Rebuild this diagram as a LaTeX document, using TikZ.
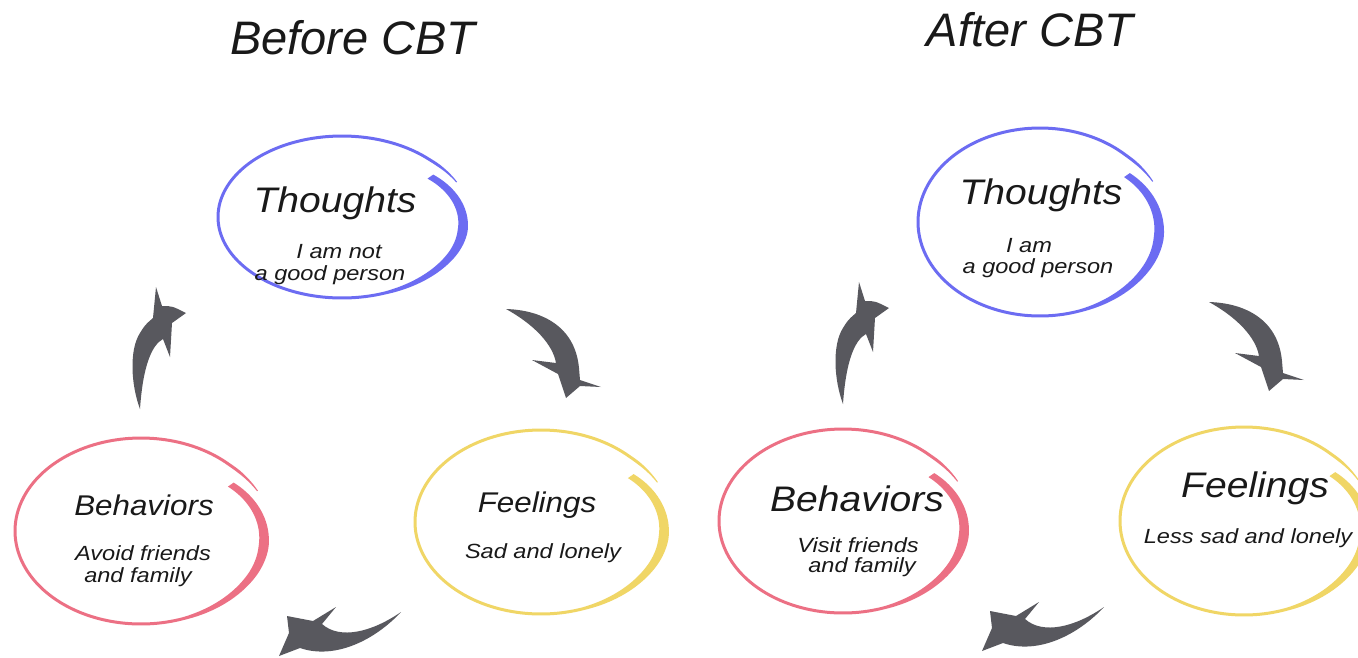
\documentclass[tikz,border=0pt]{standalone}
\usepackage{fontspec}
\setmainfont{Liberation Sans}
\usepackage{graphicx}
\definecolor{cblue}{RGB}{108,108,242}
\definecolor{cpink}{RGB}{236,112,132}
\definecolor{cyel}{RGB}{240,214,102}
\definecolor{cgray}{RGB}{88,88,94}
\definecolor{ctxt}{RGB}{25,25,25}
\newcommand\hsx[1]{\scalebox{1.1}[1]{#1}}
\newcommand\hsy[1]{\scalebox{1.15}[1]{#1}}
% brush-stroke ellipse: cx, cy, rx, ry, colour
\newcommand\brushell[5]{%
  \fill[#5] plot[domain=25:395,samples=180,variable=\u]
    ({#1+(#3*rr(\u)+ww(\u)/2)*cos(\u)},{#2-(#4*rr(\u)+ww(\u)/2)*sin(\u)})
    -- plot[domain=395:25,samples=180,variable=\u]
    ({#1+(#3*rr(\u)-ww(\u)/2)*cos(\u)},{#2-(#4*rr(\u)-ww(\u)/2)*sin(\u)})
    -- cycle;}
\begin{document}
\begin{tikzpicture}[x=1pt,y=-1pt,
  declare function={
    rr(\t)=ifthenelse(\t<45,1+0.02*(45-\t)/20,ifthenelse(\t<330,1,1-0.13*((\t-330)/65)*((\t-330)/65)));
    ww(\t)=ifthenelse(\t<40,1+2*(\t-25)/15,ifthenelse(\t<290,3,ifthenelse(\t<350,3+7*(\t-290)/60,10-3*(\t-350)/45)));
  },
  title/.style={font=\fontsize{47}{52}\selectfont\itshape,text=ctxt,inner sep=0pt,anchor=base},
  headS/.style={font=\fontsize{28.5}{32}\selectfont\itshape,text=ctxt,inner sep=0pt,anchor=base},
  headL/.style={font=\fontsize{35.5}{40}\selectfont\itshape,text=ctxt,inner sep=0pt,anchor=base},
  sub/.style={font=\fontsize{20.5}{24}\selectfont\itshape,text=ctxt,inner sep=0pt,anchor=base},
  arrA/.pic={\fill[cgray] (140,409) .. controls (131,385) and (129,350) .. (140,333)
      .. controls (145,325) .. (153,318) -- (156,287) -- (162,306)
      .. controls (172,306) .. (186,313) -- (172,323) -- (170,357) -- (163,339)
      .. controls (152,345) and (143,365) .. (140,409) -- cycle;},
  arrB/.pic={\fill[cgray] (506,309) .. controls (540,310) and (575,325) .. (579,368)
      -- (580,380) -- (601,387) -- (580,386) -- (566,398) -- (558,374) -- (532,360)
      -- (556,363) .. controls (553,345) and (535,325) .. (506,309) -- cycle;},
  arrC/.pic={\fill[cgray] (401,612) .. controls (375,640) and (335,660) .. (300,648)
      -- (279,656) -- (289,633) -- (287,616) -- (313,621) -- (336,607) -- (322,624)
      .. controls (340,640) and (372,632) .. (401,612) -- cycle;}
]
\useasboundingbox (0,0) rectangle (1358,657);
\fill[white] (0,0) rectangle (1358,657);
\begin{scope}
\clip (0,0) rectangle (1358,657);
% ---- Before CBT ----
\brushell{342}{217}{124}{81}{cblue}
\brushell{141}{531}{126}{93}{cpink}
\brushell{541}{522}{126}{92}{cyel}
\pic at (0,0) {arrA};
\pic at (0,0) {arrB};
\pic at (0,0) {arrC};
% ---- After CBT ----
\brushell{1040}{222}{122}{94}{cblue}
\brushell{843}{521}{124}{92}{cpink}
\brushell{1244}{521}{124}{94}{cyel}
\pic at (703,-5) {arrA};
\pic at (703,-7) {arrB};
\pic at (703,-5) {arrC};
\end{scope}
% ---- texts ----
\node[title] (tb) at (353,54) {Before CBT};
\node[title] (ta) at (1030,46) {After CBT};

\node[headL] (thL) at (335,212) {\hsx{Thoughts}};
\node[sub] (thL1) at (339,258) {\hsy{I am not}};
\node[sub] (thL2) at (330,280) {\hsy{a good person}};

\node[headS] (beL) at (144,515) {\hsx{Behaviors}};
\node[sub] (beL1) at (143,560) {\hsy{Avoid friends}};
\node[sub] (beL2) at (138,582) {\hsy{and family}};

\node[headS] (feL) at (537,512) {\hsx{Feelings}};
\node[sub] (feL1) at (543,558) {\hsy{Sad and lonely}};

\node[headL] (thR) at (1041,204) {\hsx{Thoughts}};
\node[sub] (thR1) at (1029,252) {\hsy{I am}};
\node[sub] (thR2) at (1038,273) {\hsy{a good person}};

\node[headL] (beR) at (857,511) {\hsx{Behaviors}};
\node[sub] (beR1) at (858,552) {\hsy{Visit friends}};
\node[sub] (beR2) at (862,572) {\hsy{and family}};

\node[headL] (feR) at (1255,497) {\hsx{Feelings}};
\node[sub] (feR1) at (1248,543) {\hsy{Less sad and lonely}};
\end{tikzpicture}
\end{document}
